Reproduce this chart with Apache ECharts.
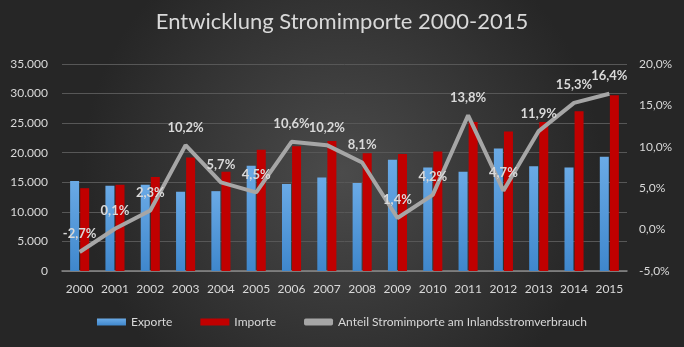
<!DOCTYPE html>
<html><head><meta charset="utf-8">
<script src="https://cdn.jsdelivr.net/npm/echarts@6/dist/echarts.min.js"></script>
<style>html,body{margin:0;padding:0;}#c{width:684px;height:347px;}</style>
</head><body><div id="c"></div>
<script>
const years = ['2000','2001','2002','2003','2004','2005','2006','2007','2008','2009','2010','2011','2012','2013','2014','2015'];
const exporte = [15200,14400,14600,13400,13500,17800,14700,15800,14900,18800,17500,16800,20700,17700,17500,19300];
const importe = [14000,14600,15900,19200,16800,20500,21100,22000,19900,19800,20200,25200,23600,25200,27000,29700];
const anteil = [-2.7,0.1,2.3,10.2,5.7,4.5,10.6,10.2,8.1,1.4,4.2,13.8,4.7,11.9,15.3,16.4];

const txt = '#d9d9d9';
const font = 'Lato, "Open Sans", sans-serif';
const chart = echarts.init(document.getElementById('c'));
chart.setOption({
  backgroundColor: {type:'radial', x:0.5, y:0.5, r:0.75, colorStops:[{offset:0,color:'#4b4b4b'},{offset:1,color:'#262626'}]},
  textStyle:{fontFamily:font},
  title:{text:'Entwicklung Stromimporte 2000-2015', left:'center', top:6,
    textStyle:{color:txt, fontSize:22, fontWeight:'normal', fontFamily:font}},
  legend:{bottom:14, left:'center', itemWidth:29, itemHeight:7, itemGap:28,
    textStyle:{color:txt, fontSize:12, fontFamily:font},
    data:[{name:'Exporte', icon:'rect'},{name:'Importe', icon:'rect'},{name:'Anteil Stromimporte am Inlandsstromverbrauch', icon:'roundRect'}]},
  grid:{left:62, right:57, top:64, bottom:76},
  xAxis:{type:'category', data:years,
    axisLine:{lineStyle:{color:'#8a8a8a', width:1.5}}, axisTick:{show:false},
    axisLabel:{color:txt, fontSize:12, margin:12, interval:0}},
  yAxis:[
    {type:'value', min:0, max:35000, interval:5000,
      axisLabel:{color:txt, fontSize:12, margin:14, formatter:v=>v.toString().replace(/\B(?=(\d{3})+(?!\d))/g,'.')},
      splitLine:{lineStyle:{color:'#575757'}}, axisLine:{show:false}, axisTick:{show:false}},
    {type:'value', min:-5, max:20, interval:5,
      axisLabel:{color:txt, fontSize:12, margin:12, formatter:v=>v.toFixed(1).replace('.',',')+'%'},
      splitLine:{show:false}, axisLine:{show:false}, axisTick:{show:false}}
  ],
  series:[
    {name:'Exporte', type:'bar', data:exporte, barWidth:9, barGap:'12%',
      itemStyle:{color:{type:'linear',x:0,y:0,x2:0,y2:1,colorStops:[{offset:0,color:'#6aaae6'},{offset:1,color:'#3f87cc'}]}}},
    {name:'Importe', type:'bar', data:importe, barWidth:9,
      itemStyle:{color:'#c00000'}},
    {name:'Anteil Stromimporte am Inlandsstromverbrauch', type:'line', yAxisIndex:1, data:anteil,
      symbol:'circle', symbolSize:0.5, showSymbol:true, lineStyle:{color:'#a6a6a6', width:4}, itemStyle:{color:'#a6a6a6'},
      labelLayout:{hideOverlap:false},
      label:{show:true, position:'top', distance:11, color:txt, fontWeight:'bold', fontSize:13,
        formatter:p=>p.value.toFixed(1).replace('.',',')+'%'}}
  ]
});
</script></body></html>
